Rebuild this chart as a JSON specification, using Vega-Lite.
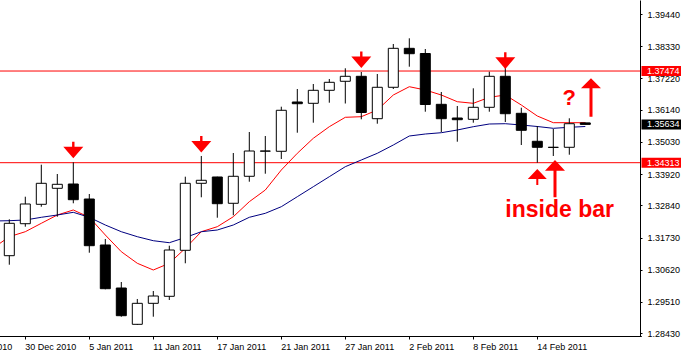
{
  "$schema": "https://vega.github.io/schema/vega-lite/v6.json",
  "width": 640,
  "height": 336,
  "autosize": {"type": "none"},
  "padding": {"left": 0, "top": 0, "right": 41, "bottom": 23},
  "background": "white",
  "config": {
    "view": {"stroke": null},
    "font": "Liberation Sans",
    "axis": {"labelFont": "Liberation Sans", "labelFontSize": 9, "labelColor": "#000000", "tickColor": "#000000", "domainColor": "#000000", "domainWidth": 1, "tickWidth": 1, "grid": false, "title": null, "labelOverlap": false, "labelSeparation": 0, "labelBound": false, "labelFlush": false}
  },
  "resolve": {"axis": {"y": "independent"}},
  "datasets": {
    "candles": [
      {"date": "29 Dec 2010", "open": 1.31106, "high": 1.32361, "low": 1.30795, "close": 1.32223},
      {"date": "30 Dec 2010", "open": 1.32209, "high": 1.33140, "low": 1.32106, "close": 1.32889},
      {"date": "31 Dec 2010", "open": 1.32878, "high": 1.34244, "low": 1.32795, "close": 1.33602},
      {"date": "3 Jan 2011", "open": 1.33430, "high": 1.33923, "low": 1.32450, "close": 1.33568},
      {"date": "4 Jan 2011", "open": 1.33578, "high": 1.34326, "low": 1.32913, "close": 1.33037},
      {"date": "5 Jan 2011", "open": 1.33061, "high": 1.33233, "low": 1.31209, "close": 1.31451},
      {"date": "6 Jan 2011", "open": 1.31475, "high": 1.31682, "low": 1.29947, "close": 1.29968},
      {"date": "7 Jan 2011", "open": 1.29992, "high": 1.30199, "low": 1.29002, "close": 1.29037},
      {"date": "10 Jan 2011", "open": 1.28740, "high": 1.29613, "low": 1.28716, "close": 1.29464},
      {"date": "11 Jan 2011", "open": 1.29464, "high": 1.29889, "low": 1.29002, "close": 1.29716},
      {"date": "12 Jan 2011", "open": 1.29706, "high": 1.31451, "low": 1.29578, "close": 1.31302},
      {"date": "13 Jan 2011", "open": 1.31292, "high": 1.33830, "low": 1.30844, "close": 1.33602},
      {"date": "14 Jan 2011", "open": 1.33602, "high": 1.34544, "low": 1.33120, "close": 1.33706},
      {"date": "17 Jan 2011", "open": 1.33820, "high": 1.33830, "low": 1.32416, "close": 1.32899},
      {"date": "18 Jan 2011", "open": 1.32913, "high": 1.34647, "low": 1.32499, "close": 1.33844},
      {"date": "19 Jan 2011", "open": 1.33844, "high": 1.35371, "low": 1.33657, "close": 1.34716},
      {"date": "20 Jan 2011", "open": 1.34710, "high": 1.35233, "low": 1.33933, "close": 1.34716},
      {"date": "21 Jan 2011", "open": 1.34706, "high": 1.36244, "low": 1.34440, "close": 1.36120},
      {"date": "24 Jan 2011", "open": 1.36406, "high": 1.36854, "low": 1.35347, "close": 1.36347},
      {"date": "25 Jan 2011", "open": 1.36361, "high": 1.37026, "low": 1.35692, "close": 1.36809},
      {"date": "26 Jan 2011", "open": 1.36809, "high": 1.37199, "low": 1.36382, "close": 1.37085},
      {"date": "27 Jan 2011", "open": 1.37120, "high": 1.37568, "low": 1.36354, "close": 1.37292},
      {"date": "28 Jan 2011", "open": 1.37292, "high": 1.37440, "low": 1.35809, "close": 1.36044},
      {"date": "31 Jan 2011", "open": 1.35830, "high": 1.37371, "low": 1.35657, "close": 1.36913},
      {"date": "1 Feb 2011", "open": 1.36913, "high": 1.38406, "low": 1.36854, "close": 1.38257},
      {"date": "2 Feb 2011", "open": 1.38257, "high": 1.38602, "low": 1.37623, "close": 1.38071},
      {"date": "3 Feb 2011", "open": 1.38078, "high": 1.38233, "low": 1.36071, "close": 1.36320},
      {"date": "4 Feb 2011", "open": 1.36326, "high": 1.36751, "low": 1.35371, "close": 1.35830},
      {"date": "7 Feb 2011", "open": 1.35854, "high": 1.36268, "low": 1.35037, "close": 1.35795},
      {"date": "8 Feb 2011", "open": 1.35809, "high": 1.36878, "low": 1.35692, "close": 1.36223},
      {"date": "9 Feb 2011", "open": 1.36223, "high": 1.37451, "low": 1.36071, "close": 1.37292},
      {"date": "10 Feb 2011", "open": 1.37292, "high": 1.37623, "low": 1.35716, "close": 1.36002},
      {"date": "11 Feb 2011", "open": 1.36016, "high": 1.36209, "low": 1.34923, "close": 1.35430},
      {"date": "14 Feb 2011", "open": 1.35051, "high": 1.35578, "low": 1.34313, "close": 1.34844},
      {"date": "15 Feb 2011", "open": 1.34844, "high": 1.35475, "low": 1.34544, "close": 1.34840},
      {"date": "16 Feb 2011", "open": 1.34844, "high": 1.35844, "low": 1.34588, "close": 1.35657},
      {"date": "17 Feb 2011", "open": 1.35685, "high": 1.35690, "low": 1.35630, "close": 1.35634}
    ],
    "ma": [
      {"date": "28 Dec 2010", "fast": 1.31371, "slow": 1.32302},
      {"date": "29 Dec 2010", "fast": 1.31761, "slow": 1.32313},
      {"date": "30 Dec 2010", "fast": 1.31933, "slow": 1.32337},
      {"date": "31 Dec 2010", "fast": 1.32223, "slow": 1.32430},
      {"date": "3 Jan 2011", "fast": 1.32509, "slow": 1.32509},
      {"date": "4 Jan 2011", "fast": 1.32682, "slow": 1.32602},
      {"date": "5 Jan 2011", "fast": 1.32430, "slow": 1.32430},
      {"date": "6 Jan 2011", "fast": 1.31820, "slow": 1.32164},
      {"date": "7 Jan 2011", "fast": 1.31244, "slow": 1.31933},
      {"date": "10 Jan 2011", "fast": 1.30844, "slow": 1.31761},
      {"date": "11 Jan 2011", "fast": 1.30613, "slow": 1.31623},
      {"date": "12 Jan 2011", "fast": 1.30844, "slow": 1.31554},
      {"date": "13 Jan 2011", "fast": 1.31361, "slow": 1.31733},
      {"date": "14 Jan 2011", "fast": 1.31933, "slow": 1.31933},
      {"date": "17 Jan 2011", "fast": 1.32106, "slow": 1.31992},
      {"date": "18 Jan 2011", "fast": 1.32450, "slow": 1.32164},
      {"date": "19 Jan 2011", "fast": 1.32968, "slow": 1.32430},
      {"date": "20 Jan 2011", "fast": 1.33371, "slow": 1.32568},
      {"date": "21 Jan 2011", "fast": 1.34061, "slow": 1.32795},
      {"date": "24 Jan 2011", "fast": 1.34637, "slow": 1.33140},
      {"date": "25 Jan 2011", "fast": 1.35154, "slow": 1.33485},
      {"date": "26 Jan 2011", "fast": 1.35554, "slow": 1.33830},
      {"date": "27 Jan 2011", "fast": 1.35878, "slow": 1.34175},
      {"date": "28 Jan 2011", "fast": 1.35899, "slow": 1.34406},
      {"date": "31 Jan 2011", "fast": 1.36130, "slow": 1.34637},
      {"date": "1 Feb 2011", "fast": 1.36647, "slow": 1.34923},
      {"date": "2 Feb 2011", "fast": 1.36933, "slow": 1.35233},
      {"date": "3 Feb 2011", "fast": 1.36820, "slow": 1.35302},
      {"date": "4 Feb 2011", "fast": 1.36647, "slow": 1.35347},
      {"date": "7 Feb 2011", "fast": 1.36416, "slow": 1.35440},
      {"date": "8 Feb 2011", "fast": 1.36361, "slow": 1.35554},
      {"date": "9 Feb 2011", "fast": 1.36568, "slow": 1.35647},
      {"date": "10 Feb 2011", "fast": 1.36647, "slow": 1.35657},
      {"date": "11 Feb 2011", "fast": 1.36302, "slow": 1.35613},
      {"date": "14 Feb 2011", "fast": 1.35923, "slow": 1.35561},
      {"date": "15 Feb 2011", "fast": 1.35692, "slow": 1.35499},
      {"date": "16 Feb 2011", "fast": 1.35692, "slow": 1.35533},
      {"date": "17 Feb 2011", "fast": 1.35692, "slow": 1.35561}
    ],
    "levels": [
      {"price": 1.37474, "kind": "level"},
      {"price": 1.34313, "kind": "level"},
      {"price": 1.35634, "kind": "bid"}
    ],
    "arrows": [
      {"date": "4 Jan 2011", "price": 1.34864, "kind": "down"},
      {"date": "14 Jan 2011", "price": 1.35061, "kind": "down"},
      {"date": "28 Jan 2011", "price": 1.37975, "kind": "down"},
      {"date": "10 Feb 2011", "price": 1.37947, "kind": "down"},
      {"date": "14 Feb 2011", "price": 1.34095, "kind": "up short"},
      {"date": "15 Feb 2011", "price": 1.34406, "kind": "up long"},
      {"date": "17 Feb 2011", "price": 1.37223, "kind": "up right"}
    ],
    "notes": [
      {"date": "16 Feb 2011", "price": 1.36302, "text": "?"},
      {"date": "10 Feb 2011", "price": 1.32457, "text": "inside bar"}
    ]
  },
  "layer": [
    {
      "data": {"name": "levels"},
      "transform": [{"filter": "datum.kind == 'level'"}],
      "mark": {"type": "rule", "color": "#ff0000", "strokeWidth": 1},
      "encoding": {
        "y": {
          "field": "price", "type": "quantitative", "title": null,
          "scale": {"domain": [1.28337, 1.39923], "nice": false, "zero": false},
          "axis": {
            "orient": "right",
            "values": [1.28430, 1.29510, 1.30620, 1.31730, 1.32840, 1.33920, 1.35030, 1.36140, 1.37220, 1.38330, 1.39440],
            "format": ".5f", "tickSize": 2, "labelPadding": 5, "labelAlign": "left", "labelBaseline": "middle",
            "labelOverlap": false, "labelBound": false, "labelFlush": false, "labelSeparation": 0
          }
        }
      }
    },
    {
      "encoding": {
        "x": {
          "field": "date", "type": "ordinal", "title": null,
          "scale": {
            "type": "band",
            "domain": ["24 Dec 2010", "27 Dec 2010", "28 Dec 2010", "29 Dec 2010", "30 Dec 2010", "31 Dec 2010",
              "3 Jan 2011", "4 Jan 2011", "5 Jan 2011", "6 Jan 2011", "7 Jan 2011",
              "10 Jan 2011", "11 Jan 2011", "12 Jan 2011", "13 Jan 2011", "14 Jan 2011",
              "17 Jan 2011", "18 Jan 2011", "19 Jan 2011", "20 Jan 2011", "21 Jan 2011",
              "24 Jan 2011", "25 Jan 2011", "26 Jan 2011", "27 Jan 2011", "28 Jan 2011",
              "31 Jan 2011", "1 Feb 2011", "2 Feb 2011", "3 Feb 2011", "4 Feb 2011",
              "7 Feb 2011", "8 Feb 2011", "9 Feb 2011", "10 Feb 2011", "11 Feb 2011",
              "14 Feb 2011", "15 Feb 2011", "16 Feb 2011", "17 Feb 2011", "18 Feb 2011",
              "21 Feb 2011", "22 Feb 2011"],
            "range": [-46.7, 641.3],
            "paddingInner": 0,
            "paddingOuter": 0
          },
          "axis": {
            "values": ["24 Dec 2010", "30 Dec 2010", "5 Jan 2011", "11 Jan 2011", "17 Jan 2011", "21 Jan 2011", "27 Jan 2011", "2 Feb 2011", "8 Feb 2011", "14 Feb 2011"],
            "bandPosition": 0.5, "tickSize": 3, "labelPadding": 3, "labelAlign": "left", "labelBaseline": "top",
            "labelAngle": 0, "labelOverlap": false, "labelBound": false, "labelFlush": false
          }
        }
      },
      "layer": [
        {
          "data": {"name": "ma"},
          "transform": [{"fold": ["fast", "slow"], "as": ["ma", "value"]}],
          "mark": {"type": "line", "strokeWidth": 1, "clip": true, "interpolate": "linear"},
          "encoding": {
            "y": {"field": "value", "type": "quantitative", "title": null, "axis": null},
            "color": {"field": "ma", "type": "nominal", "scale": {"domain": ["fast", "slow"], "range": ["#ff0000", "#000080"]}, "legend": null},
            "order": {"value": null}
          }
        },
        {
          "data": {"name": "candles"},
          "mark": {"type": "rule", "color": "#000000", "strokeWidth": 1},
          "encoding": {
            "y": {"field": "low", "type": "quantitative", "title": null, "axis": null},
            "y2": {"field": "high"}
          }
        },
        {
          "data": {"name": "candles"},
          "mark": {"type": "bar", "width": 10, "stroke": "#000000", "strokeWidth": 1, "opacity": 1},
          "encoding": {
            "y": {"field": "open", "type": "quantitative", "title": null, "axis": null},
            "y2": {"field": "close"},
            "fill": {"condition": {"test": "datum.close >= datum.open", "value": "#ffffff"}, "value": "#000000"}
          }
        },
        {
          "data": {"name": "arrows"},
          "mark": {"type": "point", "filled": true, "size": 1600, "opacity": 1, "strokeWidth": 0, "color": "#ff0000"},
          "encoding": {
            "y": {"field": "price", "type": "quantitative", "title": null, "axis": null},
            "shape": {
              "field": "kind", "type": "nominal", "legend": null,
              "scale": {
                "domain": ["down", "up short", "up long", "up right"],
                "range": [
                  "M-0.06,-0.25L0.06,-0.25L0.06,0L0.5,0L0,0.58L-0.5,0L-0.06,0Z",
                  "M0,0L0.475,0.5L0.05,0.5L0.05,0.8L-0.05,0.8L-0.05,0.5L-0.475,0.5Z",
                  "M0.085,0L0.585,0.535L0.16,0.535L0.16,1.865L0.01,1.865L0.01,0.535L-0.415,0.535Z",
                  "M0.285,0L0.785,0.5L0.36,0.5L0.36,1.92L0.21,1.92L0.21,0.5L-0.215,0.5Z"
                ]
              }
            }
          }
        },
        {
          "data": {"name": "notes"},
          "transform": [{"filter": "datum.text == '?'"}],
          "mark": {"type": "text", "font": "Liberation Sans", "fontWeight": "bold", "fontSize": 22, "color": "#ff0000", "align": "center", "baseline": "alphabetic"},
          "encoding": {
            "y": {"field": "price", "type": "quantitative", "title": null, "axis": null},
            "text": {"field": "text"}
          }
        },
        {
          "data": {"name": "notes"},
          "transform": [{"filter": "datum.text != '?'"}],
          "mark": {"type": "text", "font": "Liberation Sans", "fontWeight": "bold", "fontSize": 23, "color": "#ff0000", "align": "left", "baseline": "alphabetic"},
          "encoding": {
            "y": {"field": "price", "type": "quantitative", "title": null, "axis": null},
            "text": {"field": "text"}
          }
        }
      ]
    },
    {
      "data": {"name": "levels"},
      "mark": {"type": "rule", "strokeWidth": 10, "strokeCap": "butt", "x": {"expr": "width + 1.5"}, "x2": {"expr": "width + 41"}},
      "encoding": {
        "y": {"field": "price", "type": "quantitative", "title": null, "axis": null},
        "stroke": {"field": "kind", "type": "nominal", "scale": {"domain": ["level", "bid"], "range": ["#ff0000", "#000000"]}, "legend": null}
      }
    },
    {
      "data": {"name": "levels"},
      "mark": {"type": "text", "font": "Liberation Sans", "fontSize": 9, "color": "#ffffff", "align": "left", "baseline": "middle", "x": {"expr": "width + 7"}},
      "encoding": {
        "y": {"field": "price", "type": "quantitative", "title": null, "axis": null},
        "text": {"field": "price", "type": "quantitative", "format": ".5f"}
      }
    }
  ]
}
